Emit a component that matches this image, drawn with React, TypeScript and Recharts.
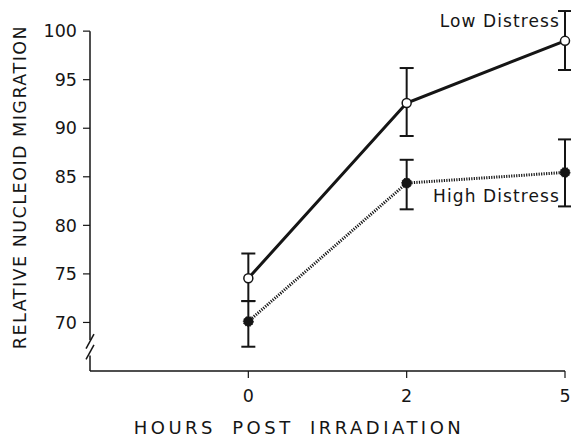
import React from 'react';
import { LineChart, Line, XAxis, YAxis, ErrorBar, ReferenceLine } from 'recharts';

const hourLabels = ['0', '2', '5'];
const hourSlots = [0, 1, 2];
const lowMean = [74.55, 92.6, 99.0];
const lowMinus = [2.35, 3.4, 3.0];
const lowPlus = [2.55, 3.6, 3.07];
const highMean = [70.1, 84.35, 85.45];
const highMinus = [2.6, 2.7, 3.5];
const highPlus = [2.1, 2.4, 3.4];
const yTicks = [70, 75, 80, 85, 90, 95, 100];
const seriesNames = ['Low Distress', 'High Distress'];

const data = hourSlots.map((x, i) => ({
  x,
  low: lowMean[i],
  lowErr: [lowMinus[i], lowPlus[i]],
  high: highMean[i],
  highErr: [highMinus[i], highPlus[i]],
}));

const FONT = '"DejaVu Sans", sans-serif';
const INK = '#151515';

const makeLabel = (name: string, dy: number) => (props: any) => {
  const { x, y, index } = props;
  if (index !== hourSlots.length - 1) return null;
  return (
    <text x={x - 5} y={y + dy} textAnchor="end" fontFamily={FONT} fontSize={17} letterSpacing={1.1} fill={INK}>
      {name}
    </text>
  );
};

const YLabel = (props: any) => {
  const cx = 20;
  const cy = 187;
  return (
    <text
      x={cx}
      y={cy}
      transform={`rotate(-90, ${cx}, ${cy})`}
      textAnchor="middle"
      dominantBaseline="central"
      fontFamily={FONT}
      fontSize={17.5}
      letterSpacing={1.5}
      fill={INK}
    >
      RELATIVE NUCLEOID MIGRATION
    </text>
  );
};

const XLabel = (props: any) => {
  return (
    <text
      x={299}
      y={434}
      textAnchor="middle"
      fontFamily={FONT}
      fontSize={18}
      letterSpacing={3.5}
      wordSpacing={7}
      fill={INK}
    >
      HOURS POST IRRADIATION
    </text>
  );
};

export default function App() {
  const tickStyle = { fontFamily: FONT, fontSize: 17.5, fill: INK };
  return (
    <div style={{ position: 'absolute', left: 0, top: 0, background: '#fff' }}>
      <LineChart width={571} height={437} data={data} margin={{ top: 2, right: 6, bottom: 0, left: 0 }}>
        <XAxis
          dataKey="x"
          type="number"
          domain={[-1, 2]}
          ticks={hourSlots}
          tickFormatter={(v: number) => hourLabels[v]}
          height={66}
          tickSize={7}
          tickMargin={12}
          tick={tickStyle}
          axisLine={{ stroke: INK, strokeWidth: 1.5 }}
          tickLine={{ stroke: INK, strokeWidth: 1.2 }}
          label={<XLabel />}
        />
        <YAxis
          type="number"
          domain={[65, 103]}
          ticks={yTicks}
          width={90}
          tickSize={7}
          tickMargin={6}
          tick={tickStyle}
          axisLine={false}
          tickLine={{ stroke: INK, strokeWidth: 1.2 }}
          label={<YLabel />}
        />
        <ReferenceLine segment={[{ x: -1, y: 100 }, { x: -1, y: 68.2 }]} stroke={INK} strokeWidth={1.5} ifOverflow="visible" />
        <ReferenceLine segment={[{ x: -0.975, y: 68.8 }, { x: -1.025, y: 67.3 }]} stroke={INK} strokeWidth={1.5} ifOverflow="visible" />
        <ReferenceLine segment={[{ x: -0.975, y: 67.7 }, { x: -1.025, y: 66.2 }]} stroke={INK} strokeWidth={1.5} ifOverflow="visible" />
        <ReferenceLine segment={[{ x: -1, y: 66.6 }, { x: -1, y: 65 }]} stroke={INK} strokeWidth={1.5} ifOverflow="visible" />
        <Line
          dataKey="high"
          stroke={INK}
          strokeWidth={3}
          strokeDasharray="1.2 1.3"
          isAnimationActive={false}
          dot={{ r: 5, fill: INK, stroke: INK, strokeWidth: 1 }}
          label={makeLabel(seriesNames[1], 30)}
        >
          <ErrorBar dataKey="highErr" width={7} stroke={INK} strokeWidth={2} direction="y" />
        </Line>
        <Line
          dataKey="low"
          stroke={INK}
          strokeWidth={3}
          isAnimationActive={false}
          dot={{ r: 4.5, fill: '#fff', stroke: INK, strokeWidth: 1.5 }}
          label={makeLabel(seriesNames[0], -14)}
        >
          <ErrorBar dataKey="lowErr" width={7} stroke={INK} strokeWidth={2} direction="y" />
        </Line>
      </LineChart>
    </div>
  );
}
